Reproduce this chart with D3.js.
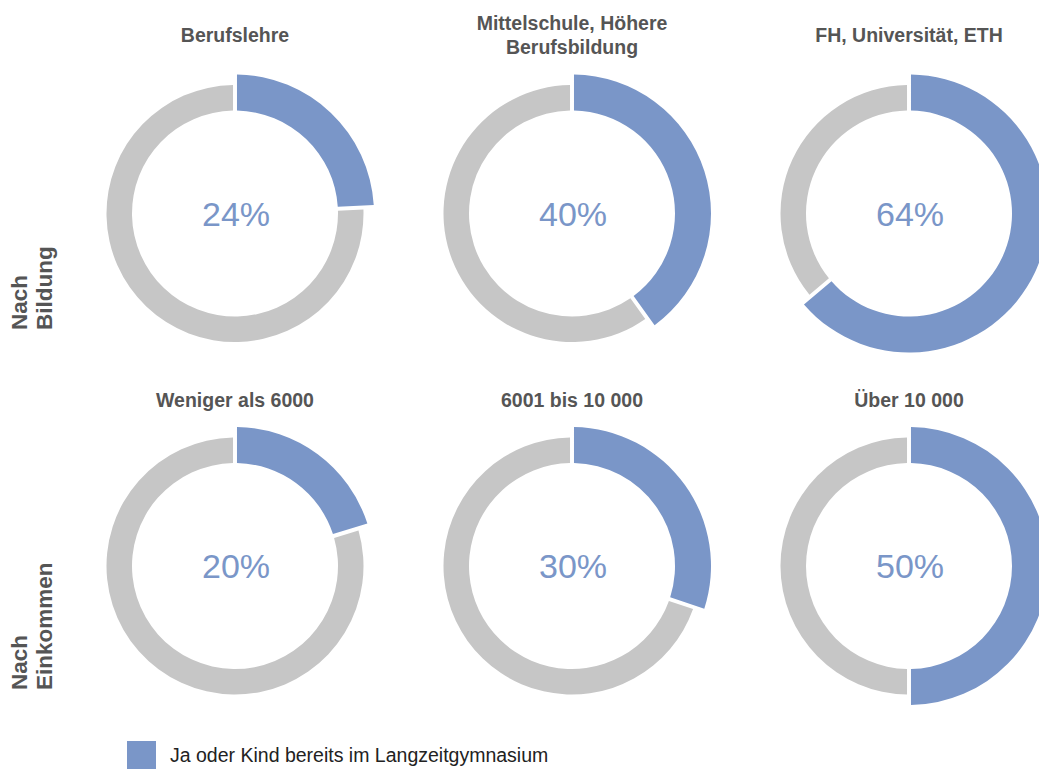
<!DOCTYPE html>
<html>
<head>
<meta charset="utf-8">
<script src="https://cdn.jsdelivr.net/npm/d3@7"></script>
<style>
  body { margin: 0; background: #fff; }
  svg { display: block; font-family: "Liberation Sans", Arial, Helvetica, sans-serif; }
</style>
</head>
<body>
<script>
// data
const rowLabels = [["Nach", "Bildung"], ["Nach", "Einkommen"]];
const titles = [
  [["Berufslehre"], ["Mittelschule, Höhere", "Berufsbildung"], ["FH, Universität, ETH"]],
  [["Weniger als 6000"], ["6001 bis 10 000"], ["Über 10 000"]]
];
const shares = [
  [24, 40, 64],
  [20, 30, 50]
];
const legendLabel = "Ja oder Kind bereits im Langzeitgymnasium";

const W = 1039, H = 769;
const BLUE = "#7a96c8", GRAY = "#c6c6c6";

const svg = d3.select("body").append("svg").attr("width", W).attr("height", H);

const x = d3.scalePoint().domain([0, 1, 2]).range([235, 909]);
const y = d3.scalePoint().domain([0, 1]).range([213.5, 566]);
const titleY = [42, 406.5]; // baseline of titles per row

const rIn = 103, rGray = 128.5, rBlue = 139;

const pie = d3.pie().sort(null).value(d => d.v).padAngle(0.031);
const arcBlue = d3.arc().innerRadius(rIn).outerRadius(rBlue).padRadius(128);
const arcGray = d3.arc().innerRadius(rIn).outerRadius(rGray).padRadius(128);

shares.forEach((row, ri) => {
  row.forEach((p, ci) => {
    const g = svg.append("g").attr("transform", `translate(${x(ci)},${y(ri)})`);
    const slices = pie([{ k: "ja", v: p }, { k: "nein", v: 100 - p }]);
    g.selectAll("path")
      .data(slices)
      .join("path")
      .attr("d", d => (d.data.k === "ja" ? arcBlue(d) : arcGray(d)))
      .attr("fill", d => (d.data.k === "ja" ? BLUE : GRAY));

    g.append("text")
      .attr("text-anchor", "middle")
      .attr("dy", "0.36em")
      .attr("x", 1)
      .style("font-size", "34px")
      .style("fill", BLUE)
      .text(p + "%");

    // title, centred on its column, multi-line centred on baseline
    const lines = titles[ri][ci];
    svg.append("text")
      .attr("text-anchor", "middle")
      .style("font-size", "19.5px")
      .style("font-weight", "bold")
      .style("fill", "#555")
      .selectAll("tspan")
      .data(lines)
      .join("tspan")
      .attr("x", x(ci))
      .attr("y", (d, i) => titleY[ri] + (i - (lines.length - 1) / 2) * 23.4)
      .text(d => d);
  });
});

// row labels, rotated
const rowBottom = [330, 690];
rowLabels.forEach((lines, ri) => {
  svg.append("text")
    .attr("transform", `translate(0,${rowBottom[ri]}) rotate(-90)`)
    .style("font-size", "22.5px")
    .style("font-weight", "bold")
    .style("fill", "#555")
    .selectAll("tspan")
    .data(lines)
    .join("tspan")
    .attr("x", 0)
    .attr("y", (d, i) => 27 + i * 25)
    .text(d => d);
});

// legend
const leg = svg.append("g").attr("transform", "translate(127,741)");
leg.append("rect").attr("width", 29).attr("height", 29).attr("fill", BLUE);
leg.append("text")
  .attr("x", 43)
  .attr("y", 21)
  .style("font-size", "19.5px")
  .style("fill", "#222")
  .text(legendLabel);
</script>
</body>
</html>
